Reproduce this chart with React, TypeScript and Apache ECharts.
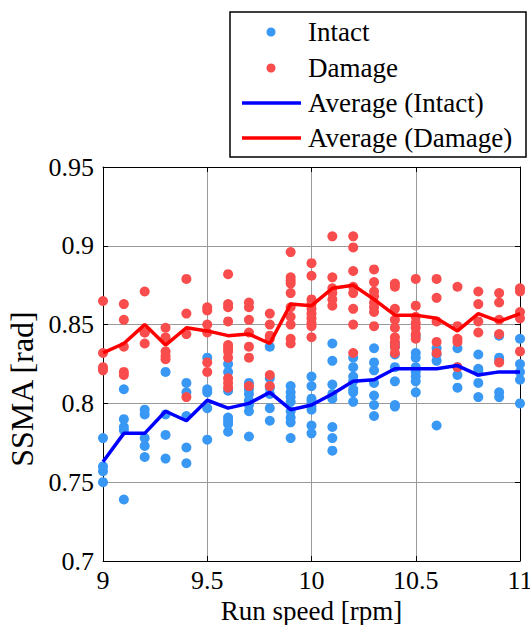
import React, { useEffect, useRef } from "react";
import * as echarts from "echarts";

const speeds = [9.0, 9.1, 9.2, 9.3, 9.4, 9.5, 9.6, 9.7, 9.8, 9.9, 10.0, 10.1, 10.2, 10.3, 10.4, 10.5, 10.6, 10.7, 10.8, 10.9, 11.0];

const intact: number[][] = [
  [0.778, 0.760, 0.757, 0.750],
  [0.809, 0.790, 0.785, 0.783, 0.739],
  [0.796, 0.793, 0.778, 0.773, 0.766],
  [0.820, 0.793, 0.780, 0.765],
  [0.813, 0.807, 0.792, 0.772, 0.762],
  [0.829, 0.809, 0.807, 0.797, 0.777],
  [0.825, 0.820, 0.808, 0.791, 0.789, 0.787, 0.782],
  [0.813, 0.809, 0.806, 0.802, 0.799, 0.795, 0.779],
  [0.836, 0.816, 0.810, 0.806, 0.797, 0.789],
  [0.811, 0.807, 0.804, 0.801, 0.795, 0.791, 0.788, 0.778],
  [0.817, 0.811, 0.803, 0.801, 0.798, 0.796, 0.786, 0.781],
  [0.838, 0.827, 0.812, 0.806, 0.803, 0.785, 0.778, 0.770],
  [0.829, 0.823, 0.817, 0.814, 0.809, 0.807, 0.801],
  [0.835, 0.826, 0.821, 0.813, 0.805, 0.799, 0.792],
  [0.838, 0.836, 0.831, 0.823, 0.814, 0.799, 0.798],
  [0.843, 0.832, 0.829, 0.823, 0.820, 0.817, 0.814, 0.807],
  [0.835, 0.831, 0.827, 0.786],
  [0.835, 0.823, 0.818, 0.810],
  [0.831, 0.822, 0.820, 0.813, 0.804],
  [0.843, 0.829, 0.827, 0.807, 0.804],
  [0.841, 0.825, 0.820, 0.815, 0.800],
];

const damage: number[][] = [
  [0.865, 0.832, 0.823, 0.821],
  [0.863, 0.853, 0.836, 0.820, 0.818],
  [0.871, 0.845, 0.845, 0.838],
  [0.848, 0.842, 0.840, 0.833, 0.830, 0.828],
  [0.879, 0.857, 0.844, 0.804],
  [0.861, 0.859, 0.850, 0.845, 0.826, 0.820],
  [0.882, 0.863, 0.861, 0.852, 0.837, 0.835, 0.833, 0.829, 0.816, 0.813, 0.810],
  [0.864, 0.861, 0.853, 0.845, 0.836, 0.829, 0.811],
  [0.857, 0.850, 0.843, 0.841, 0.818, 0.811],
  [0.896, 0.880, 0.878, 0.876, 0.870, 0.861, 0.855, 0.850, 0.841, 0.838],
  [0.889, 0.881, 0.866, 0.863, 0.860, 0.857, 0.854, 0.851, 0.849, 0.842],
  [0.906, 0.880, 0.873, 0.870, 0.866, 0.862],
  [0.906, 0.899, 0.884, 0.874, 0.870, 0.860, 0.850, 0.832],
  [0.885, 0.877, 0.871, 0.868, 0.864, 0.861, 0.858, 0.849],
  [0.876, 0.874, 0.860, 0.853, 0.848, 0.842, 0.839, 0.836, 0.832],
  [0.879, 0.862, 0.855, 0.851, 0.848, 0.844, 0.841],
  [0.879, 0.867, 0.852, 0.839, 0.832],
  [0.874, 0.849, 0.841, 0.839, 0.823],
  [0.871, 0.863, 0.852, 0.845],
  [0.870, 0.864, 0.853, 0.844, 0.826],
  [0.873, 0.871, 0.858, 0.854, 0.833],
];

const avgIntact = [0.763, 0.781, 0.781, 0.795, 0.789, 0.802, 0.797, 0.800, 0.807, 0.796, 0.799, 0.806, 0.814, 0.815, 0.822, 0.822, 0.822, 0.824, 0.818, 0.820, 0.820];
const avgDamage = [0.832, 0.838, 0.850, 0.837, 0.848, 0.846, 0.843, 0.844, 0.838, 0.863, 0.862, 0.873, 0.875, 0.866, 0.856, 0.856, 0.854, 0.846, 0.857, 0.852, 0.857];

const legendNames = ["Intact", "Damage", "Average (Intact)", "Average (Damage)"];

const FONT = "'Liberation Serif', 'Times New Roman', serif";
const BLUE_DOT = "#3a98f5";
const RED_DOT = "#f94c4c";
const BLUE_LINE = "#0000ff";
const RED_LINE = "#ff0000";

function toPoints(groups: number[][]): number[][] {
  const out: number[][] = [];
  groups.forEach((vals, i) => vals.forEach((v) => out.push([speeds[i], v])));
  return out;
}

export default function App() {
  const ref = useRef<HTMLDivElement>(null);
  useEffect(() => {
    document.body.style.margin = "0";
    if (!ref.current) return;
    const chart = echarts.init(ref.current, null, { renderer: "svg" });
    const label = { fontFamily: FONT, fontSize: 26, color: "#000" };
    const lx = 242, tx = 308;
    const rows = [32, 68, 103, 138];
    chart.setOption({
      animation: false,
      backgroundColor: "#fff",
      grid: { left: 103, right: 10, top: 167, bottom: 64, containLabel: false, outerBoundsMode: "none" },
      xAxis: [
        {
          type: "value", min: 9, max: 11, interval: 0.5,
          name: "Run speed [rpm]", nameLocation: "middle", nameGap: 36,
          nameTextStyle: { ...label, fontSize: 27 },
          axisLine: { show: true, lineStyle: { color: "#000", width: 1 } },
          axisTick: { show: true, inside: true, length: 5, lineStyle: { color: "#000" } },
          axisLabel: { ...label, margin: 6 },
          splitLine: { show: true, lineStyle: { color: "#9a9a9a", width: 1 } },
        },
        {
          type: "value", min: 9, max: 11, interval: 0.5, position: "top",
          axisLine: { show: true, lineStyle: { color: "#000", width: 1 } },
          axisTick: { show: true, inside: true, length: 5, lineStyle: { color: "#000" } },
          axisLabel: { show: false }, splitLine: { show: false },
        },
      ],
      yAxis: [
        {
          type: "value", min: 0.7, max: 0.95, interval: 0.05,
          name: "SSMA [rad]", nameLocation: "middle", nameGap: 60,
          nameTextStyle: { ...label, fontSize: 32, padding: [0, 50, 0, 0] },
          axisLine: { show: true, lineStyle: { color: "#000", width: 1 } },
          axisTick: { show: true, inside: true, length: 5, lineStyle: { color: "#000" } },
          axisLabel: { ...label, margin: 9 },
          splitLine: { show: true, lineStyle: { color: "#9a9a9a", width: 1 } },
        },
        {
          type: "value", min: 0.7, max: 0.95, interval: 0.05, position: "right",
          axisLine: { show: true, lineStyle: { color: "#000", width: 1 } },
          axisTick: { show: true, inside: true, length: 5, lineStyle: { color: "#000" } },
          axisLabel: { show: false }, splitLine: { show: false },
        },
      ],
      series: [
        {
          name: legendNames[0], type: "scatter", data: toPoints(intact),
          symbolSize: 10, clip: false, itemStyle: { color: BLUE_DOT, opacity: 1 },
        },
        {
          name: legendNames[1], type: "scatter", data: toPoints(damage),
          symbolSize: 10, clip: false, itemStyle: { color: RED_DOT, opacity: 1 },
        },
        {
          name: legendNames[2], type: "line", data: speeds.map((s, i) => [s, avgIntact[i]]),
          showSymbol: false, symbol: "none", lineStyle: { color: BLUE_LINE, width: 3.5 },
          z: 5,
        },
        {
          name: legendNames[3], type: "line", data: speeds.map((s, i) => [s, avgDamage[i]]),
          showSymbol: false, symbol: "none", lineStyle: { color: RED_LINE, width: 3.5 },
          z: 5,
        },
      ],
      graphic: [
        {
          type: "group",
          z: 100,
          children: [
            { type: "rect", shape: { x: 230, y: 12, width: 296, height: 145 }, style: { fill: "#fff", stroke: "#000", lineWidth: 1.5 } },
            { type: "circle", shape: { cx: 271, cy: rows[0], r: 4.5 }, style: { fill: BLUE_DOT } },
            { type: "circle", shape: { cx: 271, cy: rows[1], r: 4.5 }, style: { fill: RED_DOT } },
            { type: "line", shape: { x1: lx, y1: rows[2], x2: 301, y2: rows[2] }, style: { stroke: BLUE_LINE, lineWidth: 3.5 } },
            { type: "line", shape: { x1: lx, y1: rows[3], x2: 301, y2: rows[3] }, style: { stroke: RED_LINE, lineWidth: 3.5 } },
            ...legendNames.map((n, i) => ({
              type: "text",
              style: { text: n, x: tx, y: rows[i], verticalAlign: "middle", font: `27px ${FONT}`, fill: "#000" },
            })),
          ],
        },
      ],
    });
    return () => chart.dispose();
  }, []);
  return <div ref={ref} style={{ width: 530, height: 625 }} />;
}
